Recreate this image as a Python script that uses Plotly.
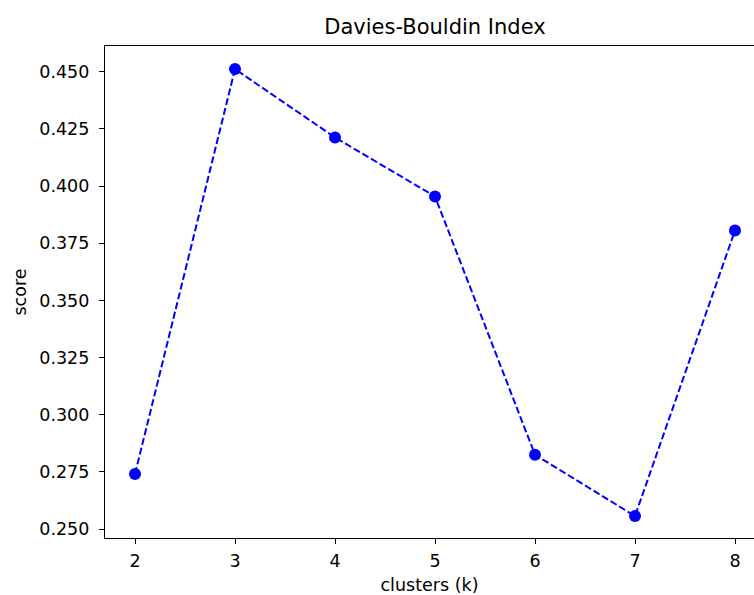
import plotly.graph_objects as go

clusters = [2, 3, 4, 5, 6, 7, 8]
scores = [0.2741, 0.4512, 0.4213, 0.3955, 0.2825, 0.2557, 0.3806]
y_ticks = [0.250, 0.275, 0.300, 0.325, 0.350, 0.375, 0.400, 0.425, 0.450]
y_tick_text = [f"{v:.3f}" for v in y_ticks]
x_ticks = clusters

fig = go.Figure()
fig.add_trace(go.Scatter(
    x=clusters, y=scores, mode="lines+markers",
    line=dict(color="#0000ff", width=2, dash="7px,3px"),
    marker=dict(color="#0000ff", size=12),
    showlegend=False,
))

font = "DejaVu Sans"
fig.update_layout(
    width=754, height=595,
    margin=dict(l=105, r=0, t=46, b=57),
    paper_bgcolor="white", plot_bgcolor="white",
    font=dict(family=font, size=17.5, color="black"),
    title=dict(text="Davies-Bouldin Index", x=435 / 754, xanchor="center",
               xref="container", y=1 - 27 / 595, yanchor="middle", yref="container",
               font=dict(family=font, size=21, color="black")),
    xaxis=dict(range=[1.7, 8.19], tickmode="array", tickvals=x_ticks,
               showgrid=False, zeroline=False, showline=True, linecolor="black",
               linewidth=1.2, mirror=True, ticks="outside", ticklen=5,
               tickcolor="black", tickwidth=1, ticklabelstandoff=2,
               title=dict(text="clusters (k)", font=dict(family=font, size=17.5), standoff=9)),
    yaxis=dict(range=[0.2461, 0.4613], tickmode="array", tickvals=y_ticks,
               ticktext=y_tick_text,
               showgrid=False, zeroline=False, showline=True, linecolor="black",
               linewidth=1.2, ticks="outside", ticklen=5, tickcolor="black",
               tickwidth=1, ticklabelstandoff=6,
               title=dict(text="score", font=dict(family=font, size=17.5), standoff=8)),
)

fig.write_html("out.html")
